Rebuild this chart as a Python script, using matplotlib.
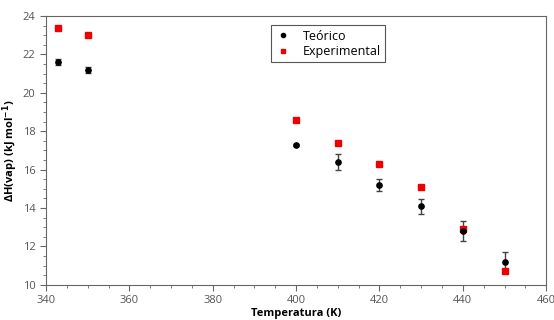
import numpy as np
import matplotlib.pyplot as plt
from matplotlib.lines import Line2D

plt.rcParams['font.family'] = ['Open Sans', 'DejaVu Sans']

temp = np.array([343, 350, 400, 410, 420, 430, 440, 450])
teorico = np.array([21.6, 21.2, 17.3, 16.4, 15.2, 14.1, 12.8, 11.2])
teorico_err = np.array([0.15, 0.15, 0.05, 0.42, 0.31, 0.39, 0.5, 0.53])
experimental = np.array([23.4, 23.0, 18.6, 17.4, 16.3, 15.1, 12.9, 10.7])

fig, ax = plt.subplots(figsize=(5.54, 3.2), dpi=100)
fig.subplots_adjust(left=0.083, right=0.986, top=0.95, bottom=0.11)

ax.errorbar(temp, teorico, yerr=teorico_err, fmt='o', color='black', ms=3.8,
            ecolor='#444444', elinewidth=1, capsize=2.5, capthick=1)
ax.plot(temp, experimental, 's', color='#ee0000', ms=4.3)

ax.set_xlim(340, 460)
ax.set_ylim(10, 24)
ax.set_xticks(np.arange(340, 461, 20))
ax.set_xticks(np.arange(340, 461, 5), minor=True)
ax.set_yticks(np.arange(10, 25, 2))
ax.set_yticks(np.arange(10, 24.1, 0.5), minor=True)

for s in ax.spines.values():
    s.set_color('#666666')
ax.tick_params(which='both', colors='#666666', labelsize=8, labelcolor='#555555')
ax.tick_params(which='major', length=4)
ax.tick_params(which='minor', length=2.5)

ax.set_xlabel('Temperatura (K)', fontsize=8, fontweight='bold', labelpad=1)
ax.set_ylabel(r'ΔH(vap) (kJ mol$^{\mathbf{-1}}$)', fontsize=8, fontweight='bold', labelpad=2)

handles = [Line2D([], [], ls='none', marker='o', color='black', ms=3),
           Line2D([], [], ls='none', marker='s', color='#ee0000', ms=3.5)]
leg = ax.legend(handles, ['Teórico', 'Experimental'], loc='upper left',
                bbox_to_anchor=(0.449, 0.966), fontsize=9,
                fancybox=False, edgecolor='#555555', framealpha=1,
                handletextpad=0.9, borderpad=0.35, labelspacing=0.2,
                handlelength=1.3, borderaxespad=0)
leg.get_frame().set_linewidth(0.8)

plt.savefig('out.png', dpi=100)
